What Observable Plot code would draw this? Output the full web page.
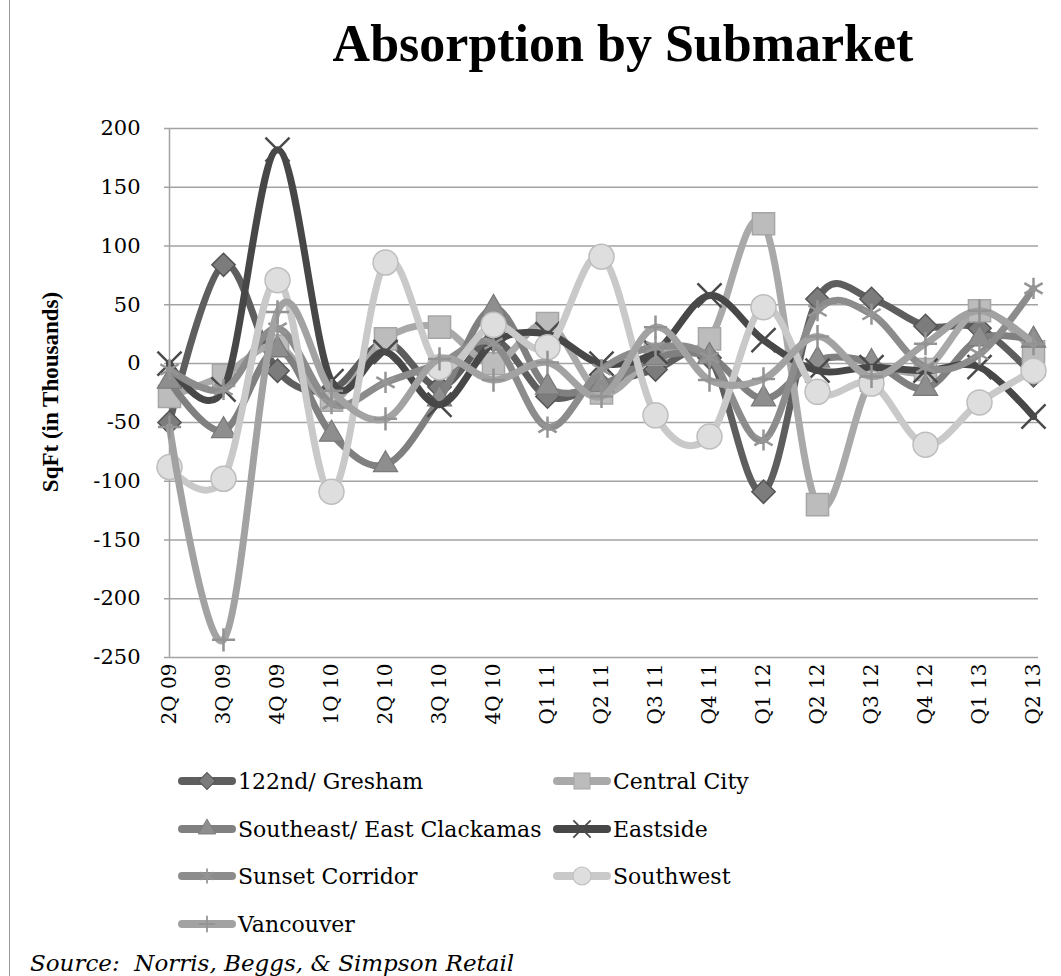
<!DOCTYPE html>
<html><head><meta charset="utf-8">
<script src="https://cdn.jsdelivr.net/npm/d3@7"></script>
<script src="https://cdn.jsdelivr.net/npm/@observablehq/plot@0.6"></script>
<style>
body{margin:0;background:#fff;}
#wrap{position:relative;width:1061px;height:976px;overflow:hidden;background:#fff;}
#title{position:absolute;left:0;width:1246px;top:18px;text-align:center;font:bold 52px/52px "Liberation Serif",serif;color:#000;}
#ylabel{position:absolute;left:51px;top:392px;transform:translate(-50%,-50%) rotate(-90deg);white-space:nowrap;font:bold 23px "Liberation Serif",serif;color:#000;}
#chart{position:absolute;left:0;top:100px;}
.leg{position:absolute;height:30px;display:flex;align-items:center;font:22px "DejaVu Serif",serif;color:#000;white-space:nowrap;}
.leg svg{display:block;margin-right:2px;}
#caption{position:absolute;left:30px;top:950px;font:italic 23px "DejaVu Serif",serif;color:#000;white-space:pre;}
#border{position:absolute;left:9px;top:0;width:0;height:976px;border-left:1.5px solid #999;}
</style></head><body><div id="wrap"><div id="border"></div><div id="title">Absorption by Submarket</div><div id="ylabel">SqFt (in Thousands)</div><div id="chart"></div><div id="legend"></div><div id="caption">Source:  Norris, Beggs, &amp; Simpson Retail</div></div>
<script>
const categories = ["2Q 09","3Q 09","4Q 09","1Q 10","2Q 10","3Q 10","4Q 10","Q1 11","Q2 11","Q3 11","Q4 11","Q1 12","Q2 12","Q3 12","Q4 12","Q1 13","Q2 13"];
const seriesNames = ["122nd/ Gresham","Central City","Southeast/ East Clackamas","Eastside","Sunset Corridor","Southwest","Vancouver"];
const gresham     = [-50, 84, -6, -22, 18, -20, 20, -28, -18, -5, 5, -109, 55, 55, 32, 30, -10];
const centralCity = [-28, -10, 15, -31, 21, 31, 0, 34, -25, 8, 21, 119, -120, -14, -5, 45, 10];
const southeast   = [-15, -57, 12, -60, -86, -30, 47, -20, -18, 5, 6, -30, 3, 1, -21, 21, 20];
const eastside    = [0, -22, 182, -15, 10, -35, 18, 25, 0, 10, 58, 20, -6, -3, -6, -3, -45];
const sunset      = [-5, -22, 30, -34, -16, 0, 17, -54, -5, 14, 5, -65, 45, 42, -3, 8, 64];
const southwest   = [-88, -98, 71, -109, 86, -3, 33, 14, 91, -44, -62, 48, -24, -17, -69, -33, -6];
const vancouver   = [-54, -235, 44, -23, -47, 4, -14, 1, -28, 31, -14, -13, 23, -11, 17, 45, 17];
const yTicks = [-250, -200, -150, -100, -50, 0, 50, 100, 150, 200];

const seriesValues = [gresham, centralCity, southeast, eastside, sunset, southwest, vancouver];
const styles = [
  {line:"#5e5e5e", symbol:"diamond2", r:10.5, fill:"#7c7c7c", stroke:"#555", sw:1.5},
  {line:"#a9a9a9", symbol:"square", r:12.5, fill:"#bcbcbc", stroke:"#a6a6a6", sw:1.5},
  {line:"#808080", symbol:"triangle", r:9, fill:"#8e8e8e", stroke:"#7a7a7a", sw:1.2},
  {line:"#474747", symbol:"times", r:11, fill:"none", stroke:"#4a4a4a", sw:2.5},
  {line:"#8c8c8c", symbol:"asterisk", r:10, fill:"none", stroke:"#959595", sw:2.5},
  {line:"#c9c9c9", symbol:"circle", r:12.5, fill:"#dedede", stroke:"#bdbdbd", sw:1.5},
  {line:"#a2a2a2", symbol:"plus", r:7.5, fill:"none", stroke:"#939393", sw:2.5}
];

const rows = [];
seriesNames.forEach((name, s) => seriesValues[s].forEach((v, i) => rows.push({series: name, cat: categories[i], value: v})));

const marks = [
  Plot.gridY(yTicks, {stroke: "#a3a3a3", strokeOpacity: 1, strokeWidth: 1.5}),
  Plot.ruleX([categories[0]], {stroke: "#a3a3a3", strokeWidth: 1.5}),
  Plot.axisY(yTicks, {tickSize: 0, tickPadding: 24, tickFormat: d => String(d), label: null, fontSize: 21}),
  Plot.axisX({tickSize: 0, tickPadding: 6, tickRotate: -90, label: null, fontSize: 20})
];
styles.forEach((st, s) => {
  const d = rows.filter(r => r.series === seriesNames[s]);
  marks.push(Plot.line(d, {x: "cat", y: "value", curve: "cardinal", tension: 0, stroke: st.line, strokeWidth: 7, strokeLinecap: "round", strokeLinejoin: "round"}));
  marks.push(Plot.dot(d, {x: "cat", y: "value", symbol: st.symbol, r: st.r, fill: st.fill, stroke: st.stroke, strokeWidth: st.sw}));
});

const chart = Plot.plot({
  width: 1061, height: 630,
  marginTop: 28, marginBottom: 73, marginLeft: 164, marginRight: 23,
  x: {type: "point", domain: categories, padding: 0},
  y: {domain: [-250, 200]},
  style: {fontFamily: "DejaVu Serif", color: "#000", background: "transparent", overflow: "visible"},
  marks
});
document.getElementById("chart").appendChild(chart);

// legend
const legend = document.getElementById("legend");
const legPos = [[178,781],[553,781],[178,829],[553,829],[178,876],[553,876],[178,924]];
const symMap = {diamond2: d3.symbolDiamond2, square: d3.symbolSquare, triangle: d3.symbolTriangle, times: d3.symbolTimes, asterisk: d3.symbolAsterisk, circle: d3.symbolCircle, plus: d3.symbolPlus};
seriesNames.forEach((name, s) => {
  const st = styles[s];
  const div = document.createElement("div");
  div.className = "leg";
  div.style.left = legPos[s][0] + "px";
  div.style.top = (legPos[s][1] - 15) + "px";
  const svg = d3.create("svg").attr("width", 58).attr("height", 30);
  svg.append("line").attr("x1", 4).attr("x2", 54).attr("y1", 15).attr("y2", 15)
    .attr("stroke", st.line).attr("stroke-width", 8).attr("stroke-linecap", "round");
  const size = Math.PI * (st.r * 0.72) ** 2;
  svg.append("path").attr("transform", "translate(29,15)")
    .attr("d", d3.symbol(symMap[st.symbol], size)())
    .attr("fill", st.fill).attr("stroke", st.stroke).attr("stroke-width", st.sw * 0.7);
  div.appendChild(svg.node());
  const span = document.createElement("span");
  span.textContent = name;
  div.appendChild(span);
  legend.appendChild(div);
});
</script>
</body></html>
